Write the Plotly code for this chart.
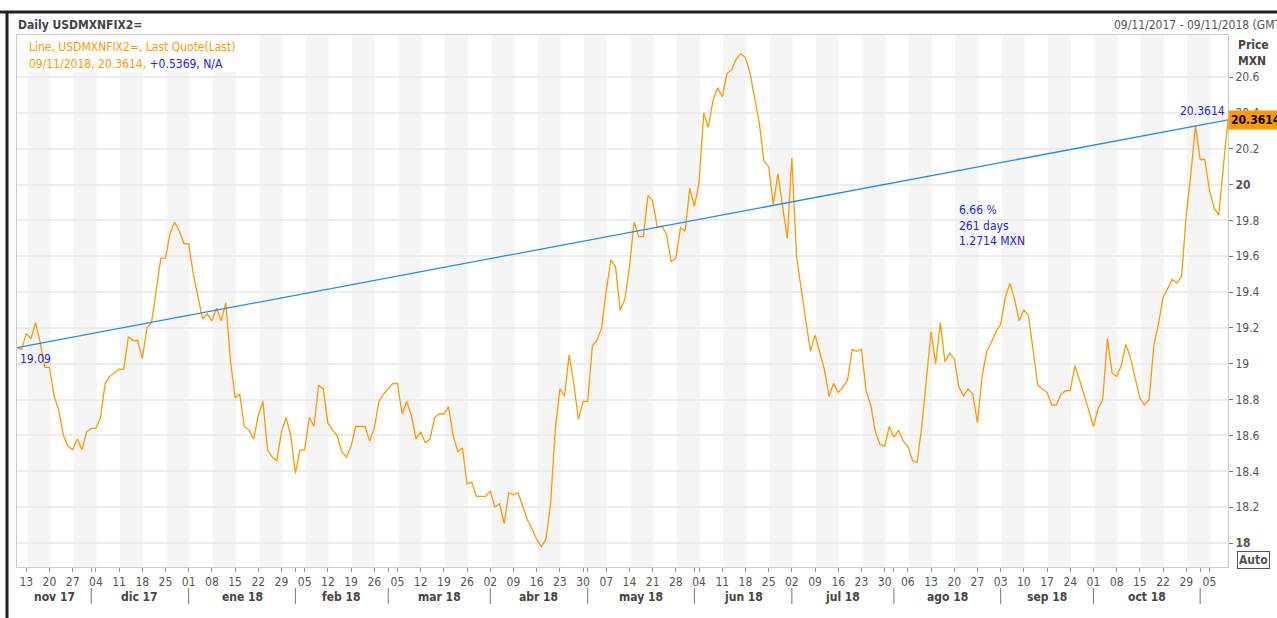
import pandas as pd
import plotly.graph_objects as go

# ---------------- data ----------------
start_date = "2017-11-09"
prices = [
    19.09, 19.08, 19.17, 19.14, 19.23, 19.12, 18.98, 18.98, 18.82, 18.74,
    18.60, 18.54, 18.52, 18.58, 18.52, 18.62, 18.64, 18.64, 18.70, 18.89,
    18.93, 18.95, 18.97, 18.97, 19.15, 19.13, 19.13, 19.03, 19.20, 19.23,
    19.41, 19.59, 19.59, 19.73, 19.79, 19.74, 19.67, 19.67, 19.50, 19.37,
    19.25, 19.28, 19.24, 19.31, 19.24, 19.34, 19.02, 18.81, 18.83, 18.65,
    18.63, 18.58, 18.71, 18.79, 18.52, 18.48, 18.46, 18.62, 18.70, 18.60,
    18.39, 18.52, 18.52, 18.70, 18.65, 18.88, 18.86, 18.67, 18.63, 18.60,
    18.51, 18.48, 18.54, 18.65, 18.65, 18.65, 18.57, 18.64, 18.79, 18.83,
    18.86, 18.89, 18.89, 18.72, 18.79, 18.71, 18.58, 18.62, 18.56, 18.58,
    18.70, 18.72, 18.72, 18.76, 18.60, 18.51, 18.53, 18.33, 18.34, 18.26,
    18.26, 18.26, 18.29, 18.20, 18.22, 18.11, 18.28, 18.27, 18.28, 18.20,
    18.13, 18.08, 18.02, 17.98, 18.02, 18.22, 18.63, 18.86, 18.82, 19.05,
    18.89, 18.69, 18.79, 18.79, 19.10, 19.13, 19.20, 19.41, 19.58, 19.54,
    19.30, 19.36, 19.54, 19.79, 19.71, 19.71, 19.94, 19.91, 19.76, 19.77,
    19.72, 19.57, 19.59, 19.76, 19.74, 19.98, 19.88, 20.01, 20.40, 20.32,
    20.47, 20.54, 20.49, 20.62, 20.64, 20.70, 20.73, 20.71, 20.62, 20.48,
    20.34, 20.13, 20.10, 19.89, 20.06, 19.88, 19.70, 20.15, 19.60, 19.42,
    19.23, 19.07, 19.16, 19.06, 18.97, 18.82, 18.89, 18.84, 18.87, 18.91,
    19.08, 19.07, 19.08, 18.85, 18.77, 18.62, 18.55, 18.54, 18.65, 18.59,
    18.63, 18.57, 18.54, 18.46, 18.45, 18.65, 18.93, 19.18, 19.00, 19.23,
    19.01, 19.06, 19.03, 18.87, 18.82, 18.86, 18.83, 18.67, 18.93, 19.07,
    19.12, 19.18, 19.22, 19.37, 19.45, 19.36, 19.24, 19.30, 19.27, 19.08,
    18.88, 18.86, 18.84, 18.77, 18.77, 18.83, 18.85, 18.85, 18.99, 18.91,
    18.83, 18.74, 18.65, 18.75, 18.80, 19.14, 18.95, 18.93, 18.99, 19.11,
    19.03, 18.92, 18.81, 18.77, 18.80, 19.10, 19.22, 19.37, 19.42, 19.47,
    19.45, 19.49, 19.83, 20.06, 20.33, 20.14, 20.14, 19.97, 19.87, 19.83,
    20.10, 20.3614,
]
prev_change = "+0.5369"
month_names_es = ["ene", "feb", "mar", "abr", "may", "jun",
                  "jul", "ago", "sep", "oct", "nov", "dic"]
y_tick_values = [18.0, 18.2, 18.4, 18.6, 18.8, 19.0, 19.2, 19.4, 19.6, 19.8, 20.0, 20.2, 20.4, 20.6]
y_bold_values = [18.0, 20.0]

dates = pd.bdate_range(start_date, periods=len(prices))
xs = list(range(len(prices)))

# ---------------- layout helpers ----------------
W, H = 1277, 618
L, R, T, B = 17, 49, 35, 51
PW, PH = W - L - R, H - T - B
def px(xp):
    return (xp - L) / PW
def py(yp):
    return (H - B - yp) / PH

FONT = "DejaVu Sans Condensed, DejaVu Sans, Verdana, sans-serif"
ORANGE = "#ff9900"
BLUE_LINE = "#1e8cf0"
BLUE_TXT = "#2222ee"
GREY_TXT = "#555555"

# ticks
monday_idx = [i for i, d in enumerate(dates) if d.weekday() == 0]
month_start_idx = [i for i in range(1, len(dates)) if dates[i].month != dates[i - 1].month]
tickvals = monday_idx + month_start_idx
ticktext = [f"{dates[i].day:02d}" for i in monday_idx] + ["" for _ in month_start_idx]

y_ticktext = []
for v in y_tick_values:
    s = f"{v:g}"
    y_ticktext.append(f"<b>{s}</b>" if v in y_bold_values else s)

fig = go.Figure()
fig.add_trace(go.Scatter(x=xs, y=prices, mode="lines",
                         line=dict(color=ORANGE, width=1.3), hoverinfo="skip"))
fig.add_trace(go.Scatter(x=[xs[0], xs[-1]], y=[prices[0], prices[-1]], mode="lines",
                         line=dict(color=BLUE_LINE, width=1.3), hoverinfo="skip"))

shapes = []
# weekly alternating bands
for k, i0 in enumerate(monday_idx):
    if k % 2 == 0:
        shapes.append(dict(type="rect", xref="x", yref="paper", x0=i0 + 0.2, x1=i0 + 5.2,
                           y0=0, y1=1, fillcolor="#f5f5f5", line=dict(width=0), layer="below"))
# white legend box
shapes.append(dict(type="rect", xref="paper", yref="paper", x0=px(17), x1=px(236),
                   y0=py(72), y1=py(35), fillcolor="white", line=dict(width=0), layer="below"))
# month separators
for i in month_start_idx:
    shapes.append(dict(type="line", xref="x", yref="paper", x0=i, x1=i,
                       y0=py(588), y1=py(604), line=dict(color="#777777", width=1)))
# black frame
shapes.append(dict(type="line", xref="paper", yref="paper", x0=px(0), x1=px(W),
                   y0=py(12), y1=py(12), line=dict(color="#222222", width=3)))
shapes.append(dict(type="line", xref="paper", yref="paper", x0=px(7), x1=px(7),
                   y0=py(12), y1=py(H), line=dict(color="#222222", width=3)))

annotations = []
# month labels
bounds = [0] + month_start_idx + [len(dates) - 1]
for a, b in zip(bounds[:-1], bounds[1:]):
    if b - a < 10:
        continue
    d = dates[a]
    annotations.append(dict(x=(a + b) / 2, xref="x", y=py(597), yref="paper",
                            text=f"<b>{month_names_es[d.month - 1]} {d.year % 100:02d}</b>",
                            showarrow=False, font=dict(family=FONT, size=12, color="#444444"),
                            xanchor="center", yanchor="middle"))
# title & range
annotations.append(dict(x=px(16), y=py(25), xref="paper", yref="paper", showarrow=False,
                        text="<b>Daily USDMXNFIX2=</b>", xanchor="left", yanchor="middle",
                        font=dict(family=FONT, size=12, color="#444444")))
annotations.append(dict(x=px(1112), y=py(25), xref="paper", yref="paper", showarrow=False,
                        text=f"{dates[0]:%d/%m/%Y} - {dates[-1]:%d/%m/%Y} (GMT)",
                        xanchor="left", yanchor="middle",
                        font=dict(family=FONT, size=12, color=GREY_TXT)))
# legend text
annotations.append(dict(x=px(27), y=py(47), xref="paper", yref="paper", showarrow=False,
                        text="Line, USDMXNFIX2=, Last Quote(Last)", xanchor="left", yanchor="middle",
                        font=dict(family=FONT, size=12, color=ORANGE)))
annotations.append(dict(x=px(27), y=py(64), xref="paper", yref="paper", showarrow=False,
                        text=f"{dates[-1]:%d/%m/%Y}, {prices[-1]:.4f}, "
                             f"<span style='color:{BLUE_TXT}'>{prev_change}, N/A</span>",
                        xanchor="left", yanchor="middle",
                        font=dict(family=FONT, size=12, color=ORANGE)))
# trend labels
annotations.append(dict(x=xs[0], y=prices[0], xref="x", yref="y", showarrow=False,
                        text=f"{prices[0]:.2f}", xanchor="left", yanchor="top", xshift=1, yshift=-2,
                        font=dict(family=FONT, size=12, color=BLUE_TXT)))
annotations.append(dict(x=xs[-1], y=prices[-1], xref="x", yref="y", showarrow=False,
                        text=f"{prices[-1]:.4f}", xanchor="right", yanchor="bottom", xshift=-1, yshift=0,
                        font=dict(family=FONT, size=12, color=BLUE_TXT)))
diff = prices[-1] - prices[0]
pct = diff / prices[0] * 100
annotations.append(dict(x=px(957), y=py(201), xref="paper", yref="paper", showarrow=False,
                        text=f"{pct:.2f} %<br>{len(prices) - 1} days<br>{diff:.4f} MXN",
                        xanchor="left", yanchor="top", align="left",
                        font=dict(family=FONT, size=12, color=BLUE_TXT)))
# price box
annotations.append(dict(x=1, y=prices[-1], xref="paper", yref="y", showarrow=False,
                        text=f"<b>{prices[-1]:.4f}</b>", xanchor="left", yanchor="middle",
                        bgcolor=ORANGE, borderpad=2,
                        font=dict(family=FONT, size=12, color="#000000")))
# axis title
annotations.append(dict(x=px(1236), y=py(45), xref="paper", yref="paper", showarrow=False,
                        text="<b>Price</b>", xanchor="left", yanchor="middle",
                        font=dict(family=FONT, size=12, color="#444444")))
annotations.append(dict(x=px(1236), y=py(61), xref="paper", yref="paper", showarrow=False,
                        text="<b>MXN</b>", xanchor="left", yanchor="middle",
                        font=dict(family=FONT, size=12, color="#444444")))
# Auto button
annotations.append(dict(x=px(1237), y=py(560), xref="paper", yref="paper", showarrow=False,
                        text="<b>Auto</b>", xanchor="left", yanchor="middle",
                        bordercolor="#555555", borderwidth=1, borderpad=1, bgcolor="white",
                        font=dict(family=FONT, size=12, color=GREY_TXT)))

y0 = 18 - (H - B - 543) / 179.2
y1 = 18 + (543 - T) / 179.2

fig.update_layout(
    width=W, height=H,
    margin=dict(l=L, r=R, t=T, b=B),
    paper_bgcolor="white", plot_bgcolor="white",
    showlegend=False,
    shapes=shapes, annotations=annotations,
    xaxis=dict(range=[xs[0], xs[-1]], tickvals=tickvals, ticktext=ticktext,
               ticks="outside", ticklen=4, tickcolor="#999999",
               tickfont=dict(family=FONT, size=12, color=GREY_TXT),
               showgrid=False, zeroline=False, showline=True, linecolor="#cccccc",
               mirror=True, fixedrange=True),
    yaxis=dict(range=[y0, y1], side="right", tickvals=y_tick_values, ticktext=y_ticktext,
               ticks="outside", ticklen=4, tickcolor="#777777",
               tickfont=dict(family=FONT, size=12, color=GREY_TXT),
               showgrid=True, gridcolor="#ececec", gridwidth=2, zeroline=False,
               showline=True, linecolor="#cccccc", mirror=True, fixedrange=True),
)

fig.write_html("out.html", config={"displayModeBar": False},
               post_script="document.body.style.margin='0px';document.body.style.overflow='hidden';")
